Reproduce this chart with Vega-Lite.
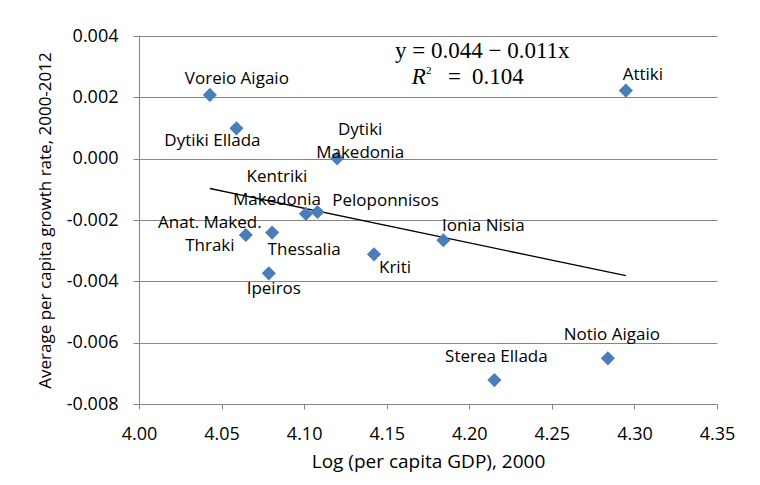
{
  "$schema": "https://vega.github.io/schema/vega-lite/v6.json",
  "autosize": {"type": "none"},
  "padding": {"left": 139, "top": 36, "right": 44, "bottom": 81},
  "width": 578,
  "height": 368,
  "background": "white",
  "config": {
    "view": {"stroke": null},
    "font": "Open Sans",
    "text": {"font": "Open Sans", "fontSize": 17, "fontWeight": "normal", "color": "black", "align": "center", "baseline": "middle"}
  },
  "data": {
    "values": [
      {"region": "Voreio Aigaio", "label": "Voreio Aigaio", "loggdp": 4.0429, "growth": 0.00208},
      {"region": "Dytiki Ellada", "label": "Dytiki Ellada", "loggdp": 4.0590, "growth": 0.00099},
      {"region": "Dytiki Makedonia", "label": "Dytiki\nMakedonia", "loggdp": 4.1200, "growth": 0.00001},
      {"region": "Kentriki Makedonia", "label": "Kentriki\nMakedonia", "loggdp": 4.1011, "growth": -0.00180},
      {"region": "Peloponnisos", "label": "Peloponnisos", "loggdp": 4.1081, "growth": -0.00174},
      {"region": "Anat. Maked. Thraki", "label": "Anat. Maked.\nThraki", "loggdp": 4.0647, "growth": -0.00249},
      {"region": "Thessalia", "label": "Thessalia", "loggdp": 4.0806, "growth": -0.00241},
      {"region": "Ipeiros", "label": "Ipeiros", "loggdp": 4.0786, "growth": -0.00374},
      {"region": "Kriti", "label": "Kriti", "loggdp": 4.1423, "growth": -0.00312},
      {"region": "Ionia Nisia", "label": "Ionia Nisia", "loggdp": 4.1843, "growth": -0.00266},
      {"region": "Sterea Ellada", "label": "Sterea Ellada", "loggdp": 4.2152, "growth": -0.00722},
      {"region": "Notio Aigaio", "label": "Notio Aigaio", "loggdp": 4.2839, "growth": -0.00651},
      {"region": "Attiki", "label": "Attiki", "loggdp": 4.2948, "growth": 0.00222}
    ]
  },
  "encoding": {
    "x": {
      "field": "loggdp", "type": "quantitative",
      "scale": {"domain": [4.0, 4.35], "nice": false, "zero": false},
      "axis": {
        "title": "Log (per capita GDP), 2000",
        "values": [4.0, 4.05, 4.1, 4.15, 4.2, 4.25, 4.3, 4.35],
        "format": ".2f", "grid": false,
        "domainColor": "#868686", "tickColor": "#868686", "tickSize": 5,
        "labelFont": "Open Sans", "labelFontSize": 18, "labelColor": "black", "labelPadding": 16,
        "labelFlush": false, "labelOverlap": false,
        "titleFont": "Open Sans", "titleFontSize": 19, "titleFontWeight": "normal", "titleColor": "black", "titlePadding": 9
      }
    },
    "y": {
      "field": "growth", "type": "quantitative",
      "scale": {"domain": [-0.008, 0.004], "nice": false, "zero": false},
      "axis": {
        "title": "Average per capita growth rate, 2000-2012",
        "values": [-0.008, -0.006, -0.004, -0.002, 0, 0.002, 0.004],
        "labelExpr": "replace(format(datum.value, '.3f'), '−', '-')",
        "grid": true, "gridColor": "#868686", "gridWidth": 1,
        "domainColor": "#868686", "tickColor": "#868686", "tickSize": 6,
        "labelFont": "Open Sans", "labelFontSize": 18, "labelColor": "black", "labelPadding": 15,
        "labelOverlap": false,
        "titleFont": "Open Sans", "titleFontSize": 17, "titleFontWeight": "normal", "titleColor": "black", "titlePadding": 12
      }
    }
  },
  "layer": [
    {
      "transform": [{"regression": "growth", "on": "loggdp"}],
      "mark": {"type": "line", "color": "black", "strokeWidth": 1.3}
    },
    {
      "mark": {"type": "point", "shape": "diamond", "filled": true, "color": "#4A7EBB", "opacity": 1, "size": 200}
    },
    {"transform": [{"filter": "datum.region === 'Voreio Aigaio'"}], "mark": {"type": "text", "dx": 27, "dy": -16}, "encoding": {"text": {"field": "label"}}},
    {"transform": [{"filter": "datum.region === 'Dytiki Ellada'"}], "mark": {"type": "text", "dx": -24, "dy": 13}, "encoding": {"text": {"field": "label"}}},
    {"transform": [{"filter": "datum.region === 'Dytiki Makedonia'"}], "mark": {"type": "text", "dx": 23, "dy": -28, "lineBreak": "\n", "lineHeight": 23}, "encoding": {"text": {"field": "label"}}},
    {"transform": [{"filter": "datum.region === 'Kentriki Makedonia'"}], "mark": {"type": "text", "dx": -29, "dy": -37, "lineBreak": "\n", "lineHeight": 23}, "encoding": {"text": {"field": "label"}}},
    {"transform": [{"filter": "datum.region === 'Peloponnisos'"}], "mark": {"type": "text", "dx": 68, "dy": -11}, "encoding": {"text": {"field": "label"}}},
    {"transform": [{"filter": "datum.region === 'Anat. Maked. Thraki'"}], "mark": {"type": "text", "dx": -36, "dy": -12, "lineBreak": "\n", "lineHeight": 23}, "encoding": {"text": {"field": "label"}}},
    {"transform": [{"filter": "datum.region === 'Thessalia'"}], "mark": {"type": "text", "dx": 32, "dy": 17}, "encoding": {"text": {"field": "label"}}},
    {"transform": [{"filter": "datum.region === 'Ipeiros'"}], "mark": {"type": "text", "dx": 5, "dy": 16}, "encoding": {"text": {"field": "label"}}},
    {"transform": [{"filter": "datum.region === 'Kriti'"}], "mark": {"type": "text", "dx": 21, "dy": 14}, "encoding": {"text": {"field": "label"}}},
    {"transform": [{"filter": "datum.region === 'Ionia Nisia'"}], "mark": {"type": "text", "dx": 40, "dy": -14}, "encoding": {"text": {"field": "label"}}},
    {"transform": [{"filter": "datum.region === 'Sterea Ellada'"}], "mark": {"type": "text", "dx": 2, "dy": -23}, "encoding": {"text": {"field": "label"}}},
    {"transform": [{"filter": "datum.region === 'Notio Aigaio'"}], "mark": {"type": "text", "dx": 4, "dy": -23}, "encoding": {"text": {"field": "label"}}},
    {"transform": [{"filter": "datum.region === 'Attiki'"}], "mark": {"type": "text", "dx": 17, "dy": -16}, "encoding": {"text": {"field": "label"}}},
    {
      "transform": [{"filter": "datum.region === 'Attiki'"}],
      "mark": {"type": "text", "font": "Liberation Serif", "fontSize": 23, "fontWeight": "normal", "align": "left", "baseline": "middle"},
      "encoding": {
        "x": {"datum": 4.155, "type": "quantitative"},
        "y": {"datum": 0.00352, "type": "quantitative"},
        "text": {"value": "y = 0.044 − 0.011x"}
      }
    },
    {
      "transform": [{"filter": "datum.region === 'Attiki'"}],
      "mark": {"type": "text", "font": "Liberation Serif", "fontSize": 23, "fontWeight": "normal", "fontStyle": "italic", "align": "left", "baseline": "middle"},
      "encoding": {
        "x": {"datum": 4.1651, "type": "quantitative"},
        "y": {"datum": 0.00265, "type": "quantitative"},
        "text": {"value": "R"}
      }
    },
    {
      "transform": [{"filter": "datum.region === 'Attiki'"}],
      "mark": {"type": "text", "font": "Liberation Serif", "fontSize": 11, "fontWeight": "normal", "align": "left", "baseline": "middle"},
      "encoding": {
        "x": {"datum": 4.1738, "type": "quantitative"},
        "y": {"datum": 0.00287, "type": "quantitative"},
        "text": {"value": "2"}
      }
    },
    {
      "transform": [{"filter": "datum.region === 'Attiki'"}],
      "mark": {"type": "text", "font": "Liberation Serif", "fontSize": 23, "fontWeight": "normal", "align": "left", "baseline": "middle"},
      "encoding": {
        "x": {"datum": 4.1871, "type": "quantitative"},
        "y": {"datum": 0.00265, "type": "quantitative"},
        "text": {"value": "="}
      }
    },
    {
      "transform": [{"filter": "datum.region === 'Attiki'"}],
      "mark": {"type": "text", "font": "Liberation Serif", "fontSize": 23, "fontWeight": "normal", "align": "left", "baseline": "middle"},
      "encoding": {
        "x": {"datum": 4.2017, "type": "quantitative"},
        "y": {"datum": 0.00265, "type": "quantitative"},
        "text": {"value": "0.104"}
      }
    }
  ]
}
